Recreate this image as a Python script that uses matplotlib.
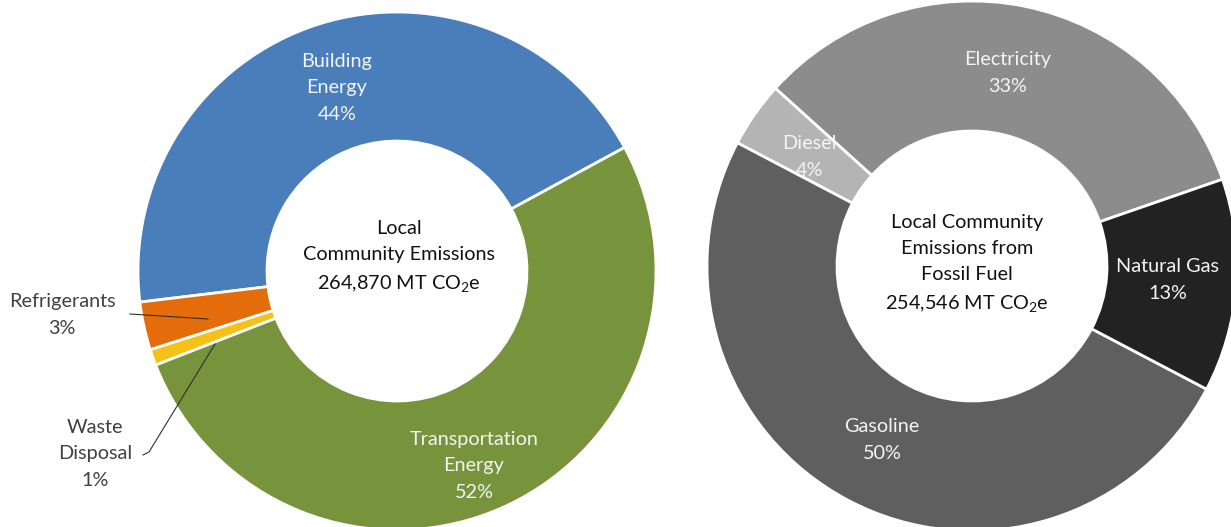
import numpy as np
import matplotlib
matplotlib.use("Agg")
import matplotlib.pyplot as plt

plt.rcParams['font.family'] = ['Lato', 'DejaVu Sans']
plt.rcParams['mathtext.fontset'] = 'custom'
plt.rcParams['mathtext.rm'] = 'Lato'
plt.rcParams['mathtext.it'] = 'Lato:italic'

# left donut: all local community emissions
sector_names = ['Building\nEnergy', 'Refrigerants', 'Waste\nDisposal', 'Transportation\nEnergy']
sector_pct = [44, 3, 1, 52]
sector_colors = ['#4a7ebb', '#e46c0a', '#f5c118', '#77933c']
sector_total = '264,870'

# right donut: fossil fuel emissions
fuel_names = ['Electricity', 'Diesel', 'Gasoline', 'Natural Gas']
fuel_pct = [33, 4, 50, 13]
fuel_colors = ['#8c8c8c', '#b4b4b4', '#5f5f5f', '#222222']
fuel_total = '254,546'

W, H = 1231, 527
fig = plt.figure(figsize=(W / 100, H / 100), dpi=100)
ax = fig.add_axes([0, 0, 1, 1])


def donut(vals, colors, center, r_out, r_in, start):
    # y axis is flipped, so counterclock=False draws counter-clockwise on screen
    wedges, _ = ax.pie(vals, colors=colors, center=center, radius=r_out,
                       startangle=-start, counterclock=False,
                       wedgeprops=dict(width=r_out - r_in, edgecolor='white', linewidth=2),
                       frame=True)
    return wedges


donut(sector_pct, sector_colors, (397, 271), 259, 130, 28.5)
donut(fuel_pct, fuel_colors, (972, 266), 265, 135, 19.1)

ax.set_xlim(0, W)
ax.set_ylim(H, 0)
ax.set_aspect('equal')
ax.set_axis_off()

fs = 14.3
lab_white = '#f4f4f4'
lab_dark = '#404040'
kw = dict(ha='center', va='center', fontsize=fs, linespacing=1.65)

ax.text(337, 88, f'{sector_names[0]}\n{sector_pct[0]}%', color=lab_white, **kw)
ax.text(474, 466, f'{sector_names[3]}\n{sector_pct[3]}%', color=lab_white, **kw)
ax.text(62, 315, f'{sector_names[1]}\n{sector_pct[1]}%', color=lab_dark, **kw)
ax.text(95, 454, f'{sector_names[2]}\n{sector_pct[2]}%', color=lab_dark, **kw)

# leader lines
ax.plot([130, 208], [314, 319], color='#303030', lw=0.8)
ax.plot([143, 149, 215], [455, 452, 344], color='#303030', lw=0.8)

ax.text(399, 257, 'Local\nCommunity Emissions\n' + sector_total + r' MT CO$_\mathrm{2}$e',
        color='#111111', **kw)

ax.text(1008, 73, f'{fuel_names[0]}\n{fuel_pct[0]}%', color=lab_white, **kw)
ax.text(809, 157, f'{fuel_names[1]}\n{fuel_pct[1]}%', color=lab_white, **kw)
ax.text(882, 440, f'{fuel_names[2]}\n{fuel_pct[2]}%', color=lab_white, **kw)
ax.text(1168, 280, f'{fuel_names[3]}\n{fuel_pct[3]}%', color=lab_white, **kw)

ax.text(967, 264, 'Local Community\nEmissions from\nFossil Fuel\n' + fuel_total + r' MT CO$_\mathrm{2}$e',
        color='#111111', **kw)

fig.savefig('out.png', dpi=100)
